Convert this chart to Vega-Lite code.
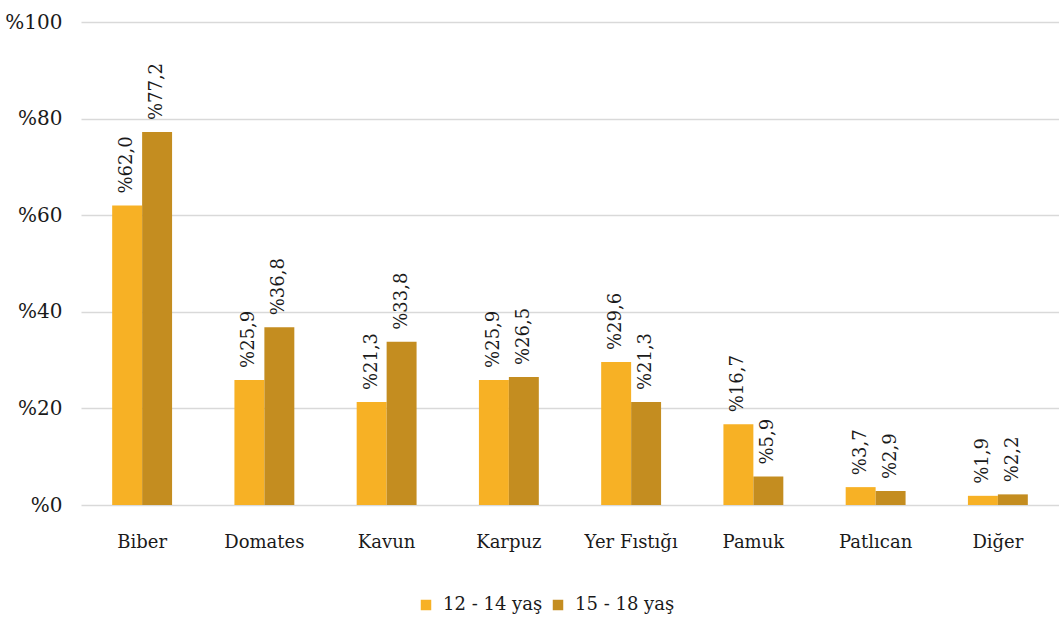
{
  "$schema": "https://vega.github.io/schema/vega-lite/v6.json",
  "autosize": "none",
  "width": 978,
  "height": 483,
  "padding": {"left": 81, "top": 22, "right": 0, "bottom": 115},
  "background": "white",
  "config": {
    "font": "DejaVu Serif",
    "view": {"stroke": null}
  },
  "data": {
    "values": [
      {"urun": "Biber", "grup": "12 - 14 yaş", "deger": 62.0, "etiket": "%62,0"},
      {"urun": "Biber", "grup": "15 - 18 yaş", "deger": 77.2, "etiket": "%77,2"},
      {"urun": "Domates", "grup": "12 - 14 yaş", "deger": 25.9, "etiket": "%25,9"},
      {"urun": "Domates", "grup": "15 - 18 yaş", "deger": 36.8, "etiket": "%36,8"},
      {"urun": "Kavun", "grup": "12 - 14 yaş", "deger": 21.3, "etiket": "%21,3"},
      {"urun": "Kavun", "grup": "15 - 18 yaş", "deger": 33.8, "etiket": "%33,8"},
      {"urun": "Karpuz", "grup": "12 - 14 yaş", "deger": 25.9, "etiket": "%25,9"},
      {"urun": "Karpuz", "grup": "15 - 18 yaş", "deger": 26.5, "etiket": "%26,5"},
      {"urun": "Yer Fıstığı", "grup": "12 - 14 yaş", "deger": 29.6, "etiket": "%29,6"},
      {"urun": "Yer Fıstığı", "grup": "15 - 18 yaş", "deger": 21.3, "etiket": "%21,3"},
      {"urun": "Pamuk", "grup": "12 - 14 yaş", "deger": 16.7, "etiket": "%16,7"},
      {"urun": "Pamuk", "grup": "15 - 18 yaş", "deger": 5.9, "etiket": "%5,9"},
      {"urun": "Patlıcan", "grup": "12 - 14 yaş", "deger": 3.7, "etiket": "%3,7"},
      {"urun": "Patlıcan", "grup": "15 - 18 yaş", "deger": 2.9, "etiket": "%2,9"},
      {"urun": "Diğer", "grup": "12 - 14 yaş", "deger": 1.9, "etiket": "%1,9"},
      {"urun": "Diğer", "grup": "15 - 18 yaş", "deger": 2.2, "etiket": "%2,2"}
    ]
  },
  "encoding": {
    "x": {
      "field": "urun", "type": "nominal", "sort": null, "title": null,
      "scale": {"paddingInner": 0.51, "paddingOuter": 0.255},
      "axis": {"labelAngle": 0, "labelFontSize": 18, "labelColor": "#1a1a1a", "domain": false, "ticks": false, "labelPadding": 28}
    },
    "xOffset": {"field": "grup", "type": "nominal", "sort": null},
    "y": {
      "field": "deger", "type": "quantitative", "title": null,
      "scale": {"domain": [0, 100]},
      "axis": {"values": [0, 20, 40, 60, 80, 100], "labelExpr": "'%' + datum.value", "labelFontSize": 20, "labelColor": "#1a1a1a", "domain": false, "ticks": false, "labelPadding": 19, "gridColor": "#d9d9d9", "gridWidth": 1.3}
    }
  },
  "layer": [
    {
      "mark": {"type": "bar"},
      "encoding": {
        "color": {
          "field": "grup", "type": "nominal", "title": null, "sort": null,
          "scale": {"domain": ["12 - 14 yaş", "15 - 18 yaş"], "range": ["#F7B125", "#C48D20"]},
          "legend": {"orient": "none", "legendX": 336, "legendY": 574, "direction": "horizontal", "padding": 0, "symbolType": "square", "symbolSize": 110, "symbolStrokeWidth": 0, "labelFontSize": 18, "labelColor": "#1a1a1a", "columnPadding": 6, "labelOffset": 8}
        }
      }
    },
    {
      "mark": {"type": "text", "angle": -90, "align": "left", "baseline": "middle", "dx": 12, "fontSize": 18, "color": "#1a1a1a"},
      "encoding": {"text": {"field": "etiket"}}
    }
  ]
}
